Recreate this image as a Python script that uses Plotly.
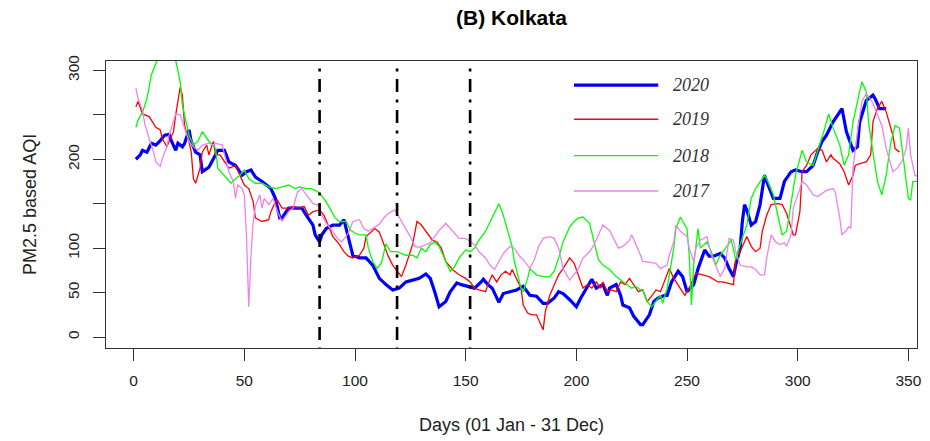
import plotly.graph_objects as go

# ---------------- data ----------------
days_2020 = [1, 3, 4, 6, 8, 10, 12, 14, 16, 17, 19, 20, 22, 23, 25, 26, 28, 30, 31, 33, 34, 37, 38, 41, 43, 46, 49, 51, 53, 55, 58, 62, 64, 66, 67, 70, 73, 76, 78, 81, 82, 84, 85, 87, 90, 93, 95, 97, 99, 102, 105, 108, 110,
             111, 114, 117, 120, 123, 126, 129, 132, 134, 136, 138, 141, 143, 146, 148, 151, 154, 157, 158, 160, 162, 165, 167, 170, 173, 176, 179, 182, 185, 187, 190, 192, 194, 197, 200, 202, 204, 207, 209, 212, 214, 215, 218, 220, 221, 224, 226, 229,
             230, 233, 235, 237, 240, 241, 243, 246, 248, 250, 253, 255, 258, 260, 262, 265, 267, 269, 271, 272, 274, 275, 276, 277, 279, 281, 283, 285, 286, 289, 292, 294, 297, 299, 302, 304, 307, 309, 311, 313, 316, 320, 322, 325, 327, 328, 331, 334, 335, 337, 340]
aqi_2020 = [200, 205, 210, 208, 218, 216, 221, 227, 228, 221, 210, 218, 214, 218, 233, 220, 208, 205, 186, 190, 191, 205, 210, 210, 197, 193, 182, 186, 188, 180, 175, 167, 156, 134, 134, 145, 145, 145, 137, 126, 115, 107, 115, 122, 126, 126, 132, 113, 92, 89, 89, 81, 70,
            66, 59, 53, 55, 62, 64, 66, 71, 66, 51, 34, 40, 51, 61, 59, 57, 55, 62, 65, 59, 55, 39, 49, 51, 53, 57, 47, 46, 38, 38, 44, 51, 49, 42, 34, 44, 53, 65, 55, 59, 47, 55, 59, 47, 36, 33, 23, 14,
            14, 25, 40, 44, 47, 47, 62, 74, 68, 51, 59, 77, 98, 91, 91, 94, 89, 77, 68, 81, 100, 130, 149, 143, 126, 130, 149, 182, 175, 156, 156, 175, 186, 188, 186, 186, 193, 208, 220, 227, 242, 257, 231, 210, 214, 242, 266, 272, 268, 257, 257]

days_2019 = [1, 2, 4, 5, 7, 9, 10, 12, 13, 15, 16, 18, 19, 21, 22, 23, 25, 26, 27, 28, 30, 31, 33, 34, 36, 37, 39, 41, 43, 46, 48, 50, 52, 54, 55, 58, 61, 62, 64, 65, 67, 70, 72, 75, 77, 79, 81, 84, 86, 88, 90, 93, 95, 97, 99, 102, 104, 105, 107, 109, 111, 113, 115, 117, 120, 121, 123, 126, 128, 130, 132, 135, 137, 139, 141, 144, 147, 150, 152, 154, 156, 159, 160, 162, 164, 166, 168, 170, 171, 173, 175, 176, 178, 180, 182, 185, 186, 188, 190, 192, 194, 197, 199, 201, 203, 205, 207, 209, 211, 212, 214, 216, 218, 220, 222, 224, 226, 228,
             230, 232, 234, 236, 238, 241, 242, 244, 247, 249, 251, 254, 257, 260, 264, 266, 268, 271, 272, 274, 277, 279, 281, 283, 284, 286, 288, 291, 293, 295, 298, 299, 301, 302, 304, 306, 309, 311, 313, 315, 316, 319, 321, 323, 325, 326, 328, 331, 333, 334, 336, 338, 340, 343, 344, 346]
aqi_2019 = [259, 265, 251, 250, 248, 240, 236, 233, 223, 214, 220, 231, 250, 281, 272, 238, 220, 208, 178, 173, 190, 208, 216, 205, 220, 205, 205, 197, 190, 193, 182, 171, 167, 152, 134, 130, 132, 141, 152, 154, 145, 145, 147, 145, 147, 137, 141, 143, 137, 126, 113, 104, 96, 91, 89, 92, 100, 113, 117, 122, 118, 104, 91, 81, 72, 68, 81, 104, 130, 126, 119, 109, 107, 100, 85, 76, 70, 66, 62, 55, 53, 51, 59, 70, 62, 70, 74, 70, 76, 66, 55, 36, 27, 25, 25, 8, 29, 47, 59, 70, 77, 89, 83, 70, 55, 59, 55, 62, 55, 62, 51, 53, 51, 62, 59, 66, 59, 51,
            53, 40, 46, 53, 51, 70, 77, 66, 55, 47, 55, 72, 70, 68, 62, 62, 61, 59, 89, 96, 113, 102, 96, 100, 119, 137, 149, 150, 149, 139, 115, 115, 141, 186, 193, 205, 212, 210, 197, 205, 201, 195, 186, 171, 182, 193, 195, 197, 205, 242, 257, 265, 253, 227, 212, 208]

days_2018 = [1, 2, 4, 6, 8, 10, 12, 15, 18, 19, 21, 22, 24, 25, 27, 29, 31, 32, 34, 35, 37, 38, 40, 42, 44, 46, 48, 50, 52, 55, 58, 61, 64, 67, 70, 73, 75, 78, 80, 82, 84, 87, 89, 91, 93, 96, 98, 100, 102, 105, 106, 108, 110, 112, 114,
             116, 119, 121, 123, 126, 128, 130, 132, 134, 136, 138, 141, 143, 145, 147, 150, 152, 154, 156, 159, 161, 163, 165, 167, 169, 171, 172, 174, 175, 176, 178, 179, 182, 185, 188, 190, 192, 194, 197, 199, 201, 203, 206, 208, 210, 212, 215, 218, 221, 223, 225, 227, 229,
             230, 232, 234, 236, 238, 239, 241, 242, 244, 245, 247, 250, 251, 252, 253, 255, 256, 259, 261, 263, 265, 268, 270, 272, 274, 277, 279, 281, 283, 285, 286, 289, 291, 293, 295, 297, 299, 302, 304, 307, 309, 312, 314, 316, 319, 321, 323, 325, 328, 329, 331, 332, 334, 336, 338, 340, 342, 344, 346, 348, 349, 350, 351, 352, 354]
aqi_2018 = [236, 244, 253, 268, 295, 309, 320, 325, 318, 311, 287, 261, 238, 227, 216, 220, 231, 227, 220, 218, 212, 190, 184, 178, 173, 178, 182, 188, 178, 173, 173, 169, 167, 169, 171, 167, 169, 167, 167, 165, 162, 152, 143, 134, 130, 130, 120, 117, 115, 115, 100, 85, 77, 84, 105,
            96, 96, 94, 92, 92, 89, 100, 96, 104, 107, 102, 85, 74, 79, 89, 98, 96, 100, 109, 119, 130, 139, 150, 137, 119, 102, 85, 66, 55, 51, 66, 77, 70, 68, 68, 74, 89, 107, 124, 130, 134, 135, 128, 107, 87, 81, 76, 68, 62, 59, 55, 57, 53,
            53, 40, 34, 40, 47, 38, 55, 70, 100, 122, 135, 122, 92, 36, 81, 122, 100, 107, 96, 81, 92, 102, 109, 87, 104, 126, 156, 167, 175, 182, 178, 160, 137, 115, 119, 152, 182, 210, 197, 193, 208, 233, 251, 235, 216, 193, 205, 242, 276, 287, 276, 242, 208, 175, 160, 182, 218, 238, 235, 193, 177, 156, 154, 175, 175]

days_2017 = [1, 2, 4, 5, 7, 9, 10, 12, 13, 15, 16, 18, 19, 21, 22, 24, 25, 27, 29, 31, 34, 36, 37, 40, 41, 43, 45, 46, 47, 49, 50, 51, 52, 53, 54, 55, 57, 58, 59, 61, 63, 65, 67, 70, 72, 74, 76, 79, 81, 83, 85, 87, 90, 92, 94, 97, 99, 102, 104, 106, 108, 111, 113, 115,
             118, 120, 123, 125, 127, 129, 132, 134, 136, 138, 141, 143, 145, 147, 150, 152, 154, 156, 159, 161, 163, 165, 167, 170, 172, 174, 176, 179, 181, 183, 185, 188, 190, 192, 194, 197, 199, 201, 203, 206, 208, 210, 212, 215, 217, 219, 221, 224, 225, 227, 229,
             230, 233, 236, 238, 241, 242, 244, 245, 247, 250, 251, 253, 254, 256, 259, 261, 263, 265, 267, 269, 271, 272, 274, 277, 279, 281, 283, 285, 286, 288, 290, 292, 294, 295, 297, 298, 301, 302, 304, 307, 309, 311, 313, 316, 317, 319, 320, 322, 323, 324, 325, 327, 329, 331, 334, 336, 338, 340, 343, 345, 347, 349, 350, 351, 353, 355]
aqi_2017 = [280, 268, 255, 240, 223, 208, 197, 192, 201, 214, 227, 244, 251, 250, 242, 227, 220, 214, 210, 216, 218, 216, 218, 216, 205, 186, 175, 156, 171, 167, 160, 111, 34, 92, 130, 147, 160, 145, 156, 149, 156, 141, 130, 141, 145, 163, 167, 156, 150, 149, 137, 128, 119, 111, 107, 117, 130, 132, 122, 119, 122, 127, 134, 139,
            143, 134, 122, 113, 102, 101, 104, 106, 113, 120, 128, 122, 117, 111, 111, 107, 104, 96, 89, 81, 76, 85, 94, 102, 100, 92, 87, 77, 87, 102, 111, 113, 111, 100, 77, 64, 70, 77, 89, 96, 104, 115, 126, 120, 109, 100, 102, 109, 115, 104, 92,
            85, 84, 83, 77, 81, 92, 107, 126, 119, 113, 100, 85, 100, 109, 113, 92, 79, 68, 77, 111, 109, 96, 81, 79, 79, 76, 70, 70, 89, 115, 107, 104, 106, 102, 115, 145, 167, 175, 171, 160, 158, 162, 165, 167, 163, 134, 115, 120, 124, 122, 190, 231, 265, 274, 263, 250, 238, 212, 186, 190, 197, 212, 235, 205, 182, 180]

lockdown_days = [84, 119, 152]

series = [
    ("2020", days_2020, aqi_2020, "#0000FF", 3.2),
    ("2019", days_2019, aqi_2019, "#FF0000", 1.3),
    ("2018", days_2018, aqi_2018, "#00FF00", 1.3),
    ("2017", days_2017, aqi_2017, "#EE82EE", 1.3),
]

x_ticks = [0, 50, 100, 150, 200, 250, 300, 350]
y_ticks = [0, 50, 100, 150, 200, 250, 300]
y_ticktext = ["0", "50", "100", "", "200", "", "300"]

# ---------------- figure ----------------
fig = go.Figure()
for name, d, v, col, w in series:
    fig.add_trace(go.Scatter(x=d, y=v, mode="lines", name=name,
                             line=dict(color=col, width=w), showlegend=False))

X_RANGE = [-12.5, 353.9]
Y_RANGE = [-12.3, 310.5]

shapes = []
for d in lockdown_days:
    shapes.append(dict(type="line", xref="x", yref="y", x0=d, x1=d, y0=302, y1=Y_RANGE[0],
                       line=dict(color="black", width=2.6, dash="3px,7.5px,13px,7.5px"), layer="above"))

# legend (drawn manually, like R's legend without box)
leg_y = [0.916, 0.797, 0.670, 0.547]
annotations = []
for (name, d, v, col, w), yy in zip(series, leg_y):
    shapes.append(dict(type="line", xref="paper", yref="paper", x0=0.577, x1=0.681, y0=yy, y1=yy,
                       line=dict(color=col, width=w)))
    annotations.append(dict(text=name, xref="paper", yref="paper", x=0.697, y=yy, xanchor="left",
                            yanchor="middle", showarrow=False,
                            font=dict(family="Liberation Serif, Times New Roman, serif", size=18,
                                      color="#333333", style="italic")))

sans = "Liberation Sans, Arial, sans-serif"
annotations.append(dict(text="Days (01 Jan - 31 Dec)", xref="paper", yref="paper", x=0.5, y=-0.268,
                        xanchor="center", yanchor="middle", showarrow=False,
                        font=dict(family=sans, size=18, color="#222222")))
annotations.append(dict(text="PM2.5 based AQI", xref="paper", yref="paper", x=-0.0944, y=0.5,
                        xanchor="center", yanchor="middle", showarrow=False, textangle=-90,
                        font=dict(family=sans, size=18, color="#222222")))

fig.update_layout(
    width=930, height=441,
    margin=dict(l=106, r=8, t=61, b=93),
    paper_bgcolor="white", plot_bgcolor="white",
    title=dict(text="<b>(B) Kolkata</b>", x=0.5, xref="paper", xanchor="center",
               y=1 - 18 / 441, yref="container", yanchor="middle",
               font=dict(family=sans, size=21, color="black")),
    shapes=shapes,
    annotations=annotations,
    xaxis=dict(range=X_RANGE, tickvals=x_ticks, ticks="outside", ticklen=12, tickwidth=1,
               tickcolor="#333333", showline=True, mirror=True, linecolor="#333333", linewidth=1.2,
               showgrid=False, zeroline=False, ticklabelstandoff=6,
               tickfont=dict(family=sans, size=15.5, color="#222222")),
    yaxis=dict(range=Y_RANGE, tickvals=y_ticks, ticktext=y_ticktext, ticks="outside", ticklen=12,
               tickwidth=1, tickcolor="#333333", tickangle=-90, showline=True, mirror=True,
               linecolor="#333333", linewidth=1.2, showgrid=False, zeroline=False,
               ticklabelstandoff=8,
               tickfont=dict(family=sans, size=15.5, color="#222222")),
)

fig.write_html("out.html")
